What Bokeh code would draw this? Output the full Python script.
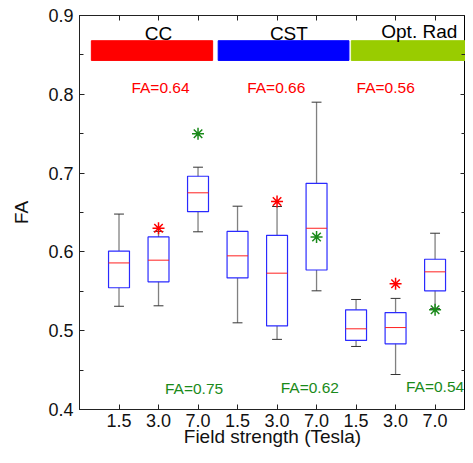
import numpy as np
from bokeh.plotting import figure
from bokeh.models import Range1d, FixedTicker, LinearAxis, ColumnDataSource, CustomJSTickFormatter
from bokeh.core.properties import value
from bokeh.embed import file_html
from bokeh.resources import INLINE

# ---- data ----
tick_labels = ["1.5", "3.0", "7.0", "1.5", "3.0", "7.0", "1.5", "3.0", "7.0"]
positions = list(range(1, 10))
whisker_hi = [0.648, 0.626, 0.7075, 0.658, 0.6576, 0.790, 0.5396, 0.541, 0.6237]
q3 = [0.601, 0.619, 0.696, 0.626, 0.621, 0.687, 0.5265, 0.523, 0.5907]
median = [0.586, 0.5895, 0.675, 0.595, 0.573, 0.630, 0.5024, 0.504, 0.5747]
q1 = [0.5545, 0.562, 0.651, 0.567, 0.506, 0.577, 0.4876, 0.4834, 0.5506]
whisker_lo = [0.531, 0.5316, 0.6255, 0.510, 0.489, 0.5506, 0.480, 0.4444, 0.528]

red_star_x = [2, 5, 8]
red_star_y = [0.630, 0.664, 0.5595]
green_star_x = [3, 6, 9]
green_star_y = [0.750, 0.619, 0.5265]

regions = ["CC", "CST", "Opt. Rad"]
region_colors = ["#ff0000", "#0000ff", "#99cc00"]
region_start = [0.30, 3.51, 6.88]
region_end = [3.37, 6.82, 9.82]
region_bar_lo = 0.843
region_bar_hi = 0.868
region_label_x = [2.0, 5.3, 8.6]
region_label_y = [0.877, 0.877, 0.880]

fa_top_labels = ["FA=0.64", "FA=0.66", "FA=0.56"]
fa_top_x = [2.05, 4.98, 7.75]
fa_top_y = [0.808, 0.808, 0.808]
fa_bot_labels = ["FA=0.75", "FA=0.62", "FA=0.54"]
fa_bot_x = [2.9, 5.83, 9.0]
fa_bot_y = [0.427, 0.428, 0.429]

y_major = [0.4, 0.5, 0.6, 0.7, 0.8, 0.9]
y_minor = [0.45, 0.55, 0.65, 0.75, 0.85]

FONT = "Liberation Sans"
box_w = 0.53
cap_w = 0.25

p = figure(width=465, height=455, output_backend="svg", toolbar_location=None,
           x_range=Range1d(0, 9.77), y_range=Range1d(0.4, 0.9),
           min_border_left=79, min_border_top=15, min_border_right=0, min_border_bottom=46)
p.background_fill_color = "white"
p.border_fill_color = "white"
p.outline_line_color = "black"
p.xgrid.visible = False
p.ygrid.visible = False

pos = np.array(positions, dtype=float)
src = ColumnDataSource(dict(x=pos, whi=whisker_hi, q3=q3, med=median, q1=q1, wlo=whisker_lo,
                            x0=pos - box_w / 2, x1=pos + box_w / 2,
                            c0=pos - cap_w / 2, c1=pos + cap_w / 2))

# whiskers
p.segment(x0="x", y0="q3", x1="x", y1="whi", source=src, line_color="#808080", line_width=1.3)
p.segment(x0="x", y0="wlo", x1="x", y1="q1", source=src, line_color="#808080", line_width=1.3)
p.segment(x0="c0", y0="whi", x1="c1", y1="whi", source=src, line_color="#333333", line_width=1)
p.segment(x0="c0", y0="wlo", x1="c1", y1="wlo", source=src, line_color="#333333", line_width=1)
# boxes
p.vbar(x="x", width=box_w, top="q3", bottom="q1", source=src, fill_color=None,
       line_color="#2a2aff", line_width=1.2)
p.segment(x0="x0", y0="med", x1="x1", y1="med", source=src, line_color="#ff2020", line_width=1)

# outliers
p.scatter(red_star_x, red_star_y, marker="asterisk", size=12, line_color="#ff0000", line_width=1.5)
p.scatter(green_star_x, green_star_y, marker="asterisk", size=12, line_color="#1a8a1a", line_width=1.5)

# region bars
p.quad(left=region_start, right=region_end, bottom=[region_bar_lo] * 3, top=[region_bar_hi] * 3,
       fill_color=region_colors, line_color=region_colors)
p.text(x=region_label_x, y=region_label_y, text=regions, text_font=value(FONT),
       text_font_size="19px", text_align="center", text_baseline="middle", text_color="black")

p.text(x=fa_top_x, y=fa_top_y, text=fa_top_labels, text_font=value(FONT),
       text_font_size="15.5px", text_align="center", text_baseline="middle", text_color="#ff0000")
p.text(x=fa_bot_x, y=fa_bot_y, text=fa_bot_labels, text_font=value(FONT),
       text_font_size="15.5px", text_align="center", text_baseline="middle", text_color="#1a8a1a")

# axes
xt = FixedTicker(ticks=positions, minor_ticks=[])
yt = FixedTicker(ticks=y_major, minor_ticks=y_minor)

for ax in p.xaxis:
    ax.ticker = xt
    ax.major_label_overrides = {i: lab for i, lab in zip(positions, tick_labels)}
    ax.axis_label = "Field strength (Tesla)"
    ax.axis_label_standoff = -4
    ax.major_label_standoff = 4
for ax in p.yaxis:
    ax.ticker = yt
    ax.major_label_overrides = {v: f"{v:.1f}" for v in y_major}
    ax.axis_label = "FA"
    ax.axis_label_standoff = 13
    ax.major_label_standoff = 6

top_ax = LinearAxis(ticker=xt, formatter=CustomJSTickFormatter(code="return ''"), major_label_standoff=0)
right_ax = LinearAxis(ticker=yt, formatter=CustomJSTickFormatter(code="return ''"), major_label_standoff=0)
p.add_layout(top_ax, "above")
p.add_layout(right_ax, "right")

for ax in p.xaxis + p.yaxis + [top_ax, right_ax]:
    ax.major_tick_in = 5
    ax.major_tick_out = 0
    ax.minor_tick_in = 4
    ax.minor_tick_out = 0
    ax.axis_line_color = "#222222"
    ax.major_tick_line_color = "#222222"
    ax.minor_tick_line_color = "#222222"
    ax.major_label_text_font = FONT
    ax.major_label_text_color = "#111111"
    ax.axis_label_text_font = FONT
    ax.axis_label_text_font_style = "normal"
    ax.axis_label_text_color = "#111111"
p.below[0].major_label_text_font_size = "18px"
p.left[0].major_label_text_font_size = "18px"
p.below[0].axis_label_text_font_size = "19px"
p.left[0].axis_label_text_font_size = "19px"

open("out.html", "w").write(file_html(p, INLINE))
